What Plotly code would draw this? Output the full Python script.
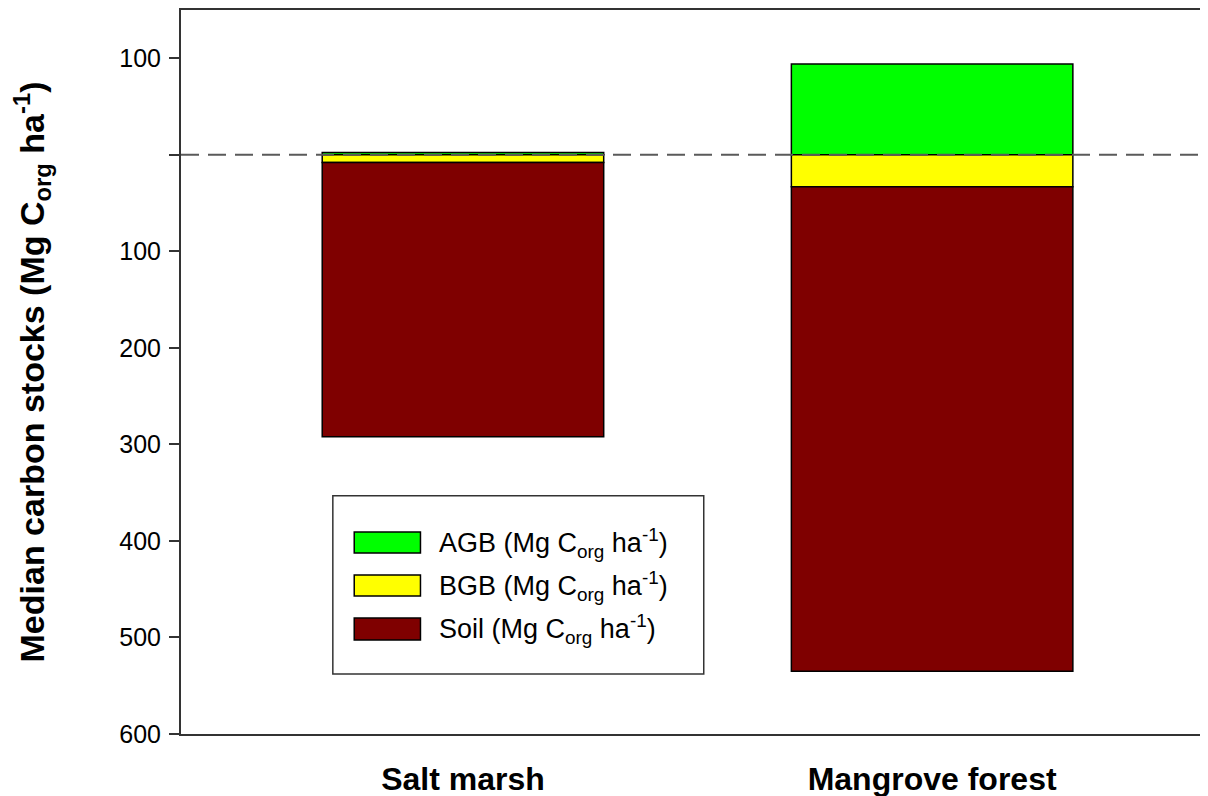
import plotly.graph_objects as go

categories = ["Salt marsh", "Mangrove forest"]
agb = [2.5, 94]
bgb = [8, 33]
soil = [284, 502]
series_names = ["AGB", "BGB", "Soil"]
series_colors = ["#00FF00", "#FFFF00", "#7F0000"]
y_tickvals = [-100, 0, 100, 200, 300, 400, 500, 600]
y_ticktext = ["100", "", "100", "200", "300", "400", "500", "600"]

FONT = "Liberation Sans, Arial, sans-serif"
xpos = list(range(len(categories)))
unit = " (Mg C<sub>org</sub> ha<sup>-1</sup>)"

fig = go.Figure()
line = dict(color="black", width=1.5)
fig.add_trace(go.Bar(x=xpos, y=[-v for v in agb], base=[0] * len(agb), width=0.6,
                     marker=dict(color=series_colors[0], line=line), name=series_names[0]))
fig.add_trace(go.Bar(x=xpos, y=bgb, base=[0] * len(bgb), width=0.6,
                     marker=dict(color=series_colors[1], line=line), name=series_names[1]))
fig.add_trace(go.Bar(x=xpos, y=soil, base=bgb, width=0.6,
                     marker=dict(color=series_colors[2], line=line), name=series_names[2]))

# dashed zero line
fig.add_shape(type="line", xref="paper", yref="y", x0=0, x1=1, y0=0, y1=0,
              line=dict(color="#5a5a5a", width=2, dash="18px,9px"), layer="above")

# manual legend (paper coords)
fig.add_shape(type="rect", xref="paper", yref="paper", x0=0.149, x1=0.513, y0=0.083, y1=0.329,
              line=dict(color="#333333", width=1.5), fillcolor="white", layer="above")
sw_y = [(0.250, 0.279), (0.1906, 0.2196), (0.1298, 0.1602)]
txt_y = [0.2638, 0.2044, 0.145]
for i, name in enumerate(series_names):
    fig.add_shape(type="rect", xref="paper", yref="paper", x0=0.170, x1=0.235,
                  y0=sw_y[i][0], y1=sw_y[i][1],
                  line=dict(color="black", width=1.5), fillcolor=series_colors[i], layer="above")
    fig.add_annotation(xref="paper", yref="paper", x=0.251, y=txt_y[i], xanchor="left",
                       yanchor="middle", showarrow=False, text=name + unit,
                       font=dict(family=FONT, size=27, color="black"))

fig.update_layout(
    width=1192, height=788,
    margin=dict(l=173, r=0, t=2, b=62),
    paper_bgcolor="white", plot_bgcolor="white",
    barmode="overlay", showlegend=False,
    font=dict(family=FONT, color="black"),
    xaxis=dict(range=[-0.601, 1.571], tickvals=xpos, ticktext=["<b>%s</b>" % c for c in categories],
               tickfont=dict(size=32, family=FONT), ticks="", showgrid=False, zeroline=False,
               showline=True, linecolor="#333333", linewidth=2, mirror=True,
               ticklabelstandoff=16, automargin=False),
    yaxis=dict(range=[600, -150], tickvals=y_tickvals, ticktext=y_ticktext,
               tickfont=dict(size=25, family=FONT), ticks="outside", ticklen=10, tickwidth=2,
               tickcolor="#333333", showgrid=False, zeroline=False, showline=True,
               linecolor="#333333", linewidth=2, ticklabelstandoff=3, automargin=False,
               title=dict(text="<b>Median carbon stocks (Mg C<sub>org</sub> ha<sup>-1</sup>)</b>",
                          font=dict(size=34, family=FONT), standoff=66)),
)

fig.write_html("out.html")
